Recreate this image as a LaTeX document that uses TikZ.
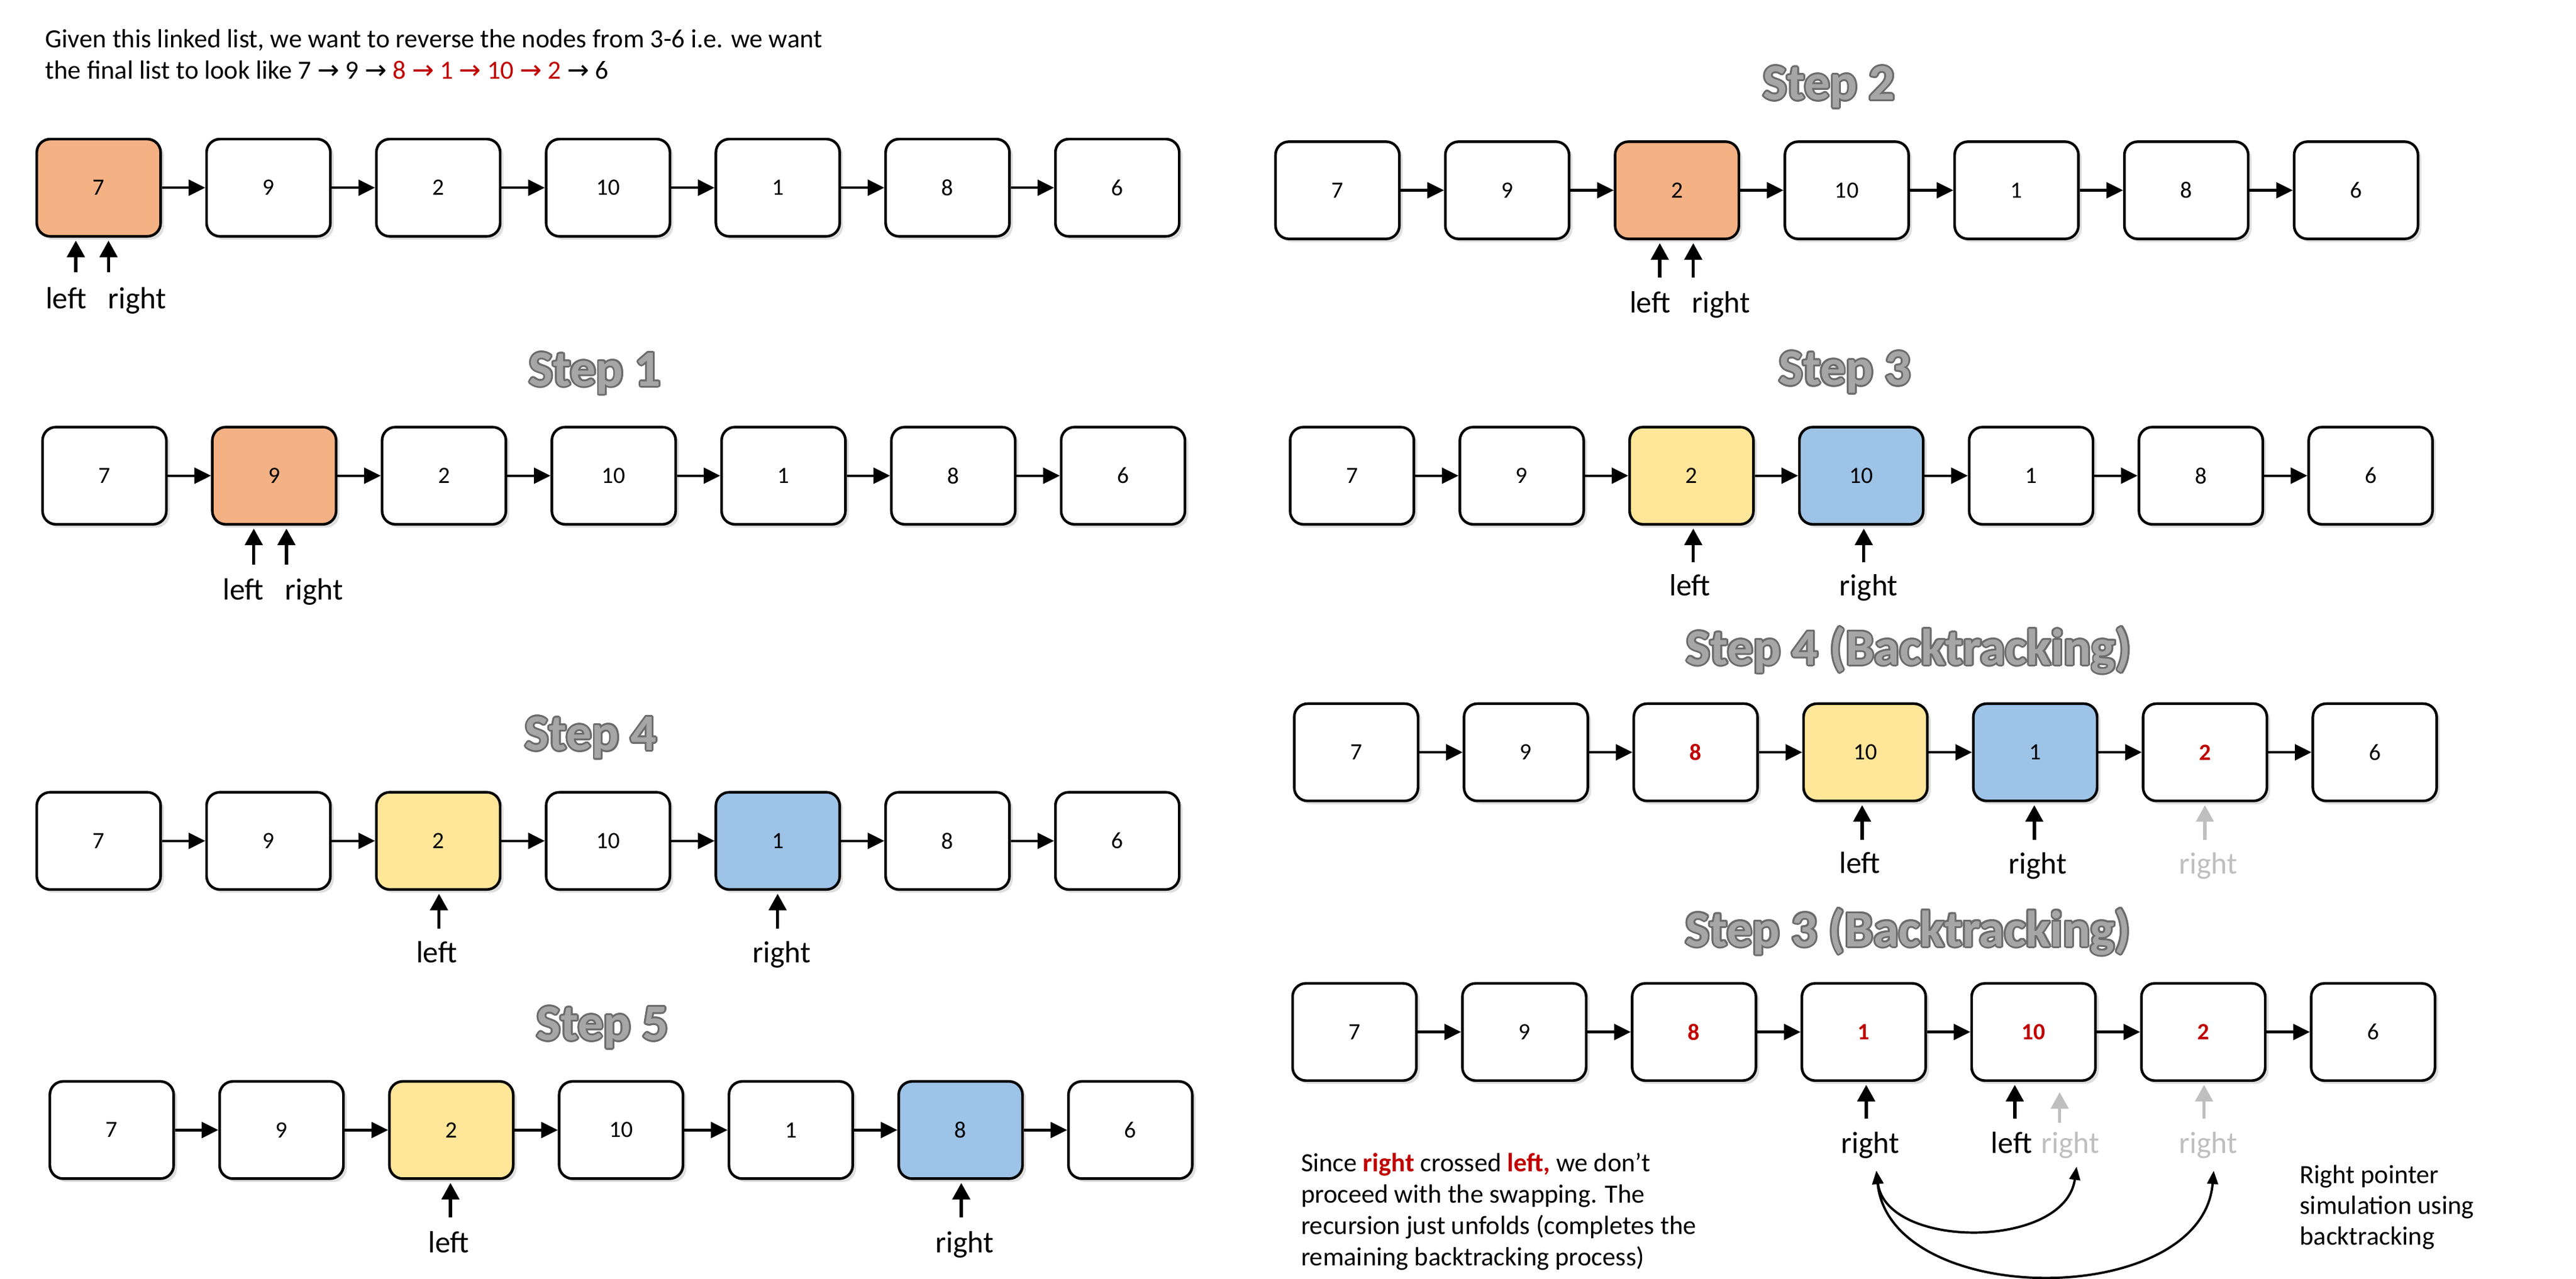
\documentclass[tikz,border=0pt]{standalone}
\usepackage{fontspec}
\setmainfont{Carlito}
\newfontfamily\arrowfont{DejaVu Sans}
\usepackage{contour}
\usetikzlibrary{arrows.meta, shadows}
\definecolor{lnorange}{HTML}{F4B183}
\definecolor{lnyellow}{HTML}{FFE699}
\definecolor{lnblue}{HTML}{9DC3E6}
\definecolor{lnred}{HTML}{C00000}
\definecolor{lnghost}{HTML}{BFBFBF}
\definecolor{lntitle}{HTML}{A6A6A6}
\definecolor{lnoutline}{HTML}{6B6B6B}
\contourlength{0.6pt}
\newcommand{\ra}{{\arrowfont →}}
\newcommand{\steptitle}[1]{\textcolor{lntitle}{\contour{lnoutline}{#1}}}

\begin{document}
\begin{tikzpicture}[
  every node/.style={font=\fontsize{9}{10.9}\selectfont},
  cell/.style={rectangle, draw, line width=0.9pt, rounded corners=0.16cm, minimum width=1.49cm, minimum height=1.17cm, fill=white, font=\fontsize{8}{9.6}\selectfont, drop shadow={opacity=0.25, shadow xshift=0.04cm, shadow yshift=-0.04cm}},
  orangecell/.style={cell, fill=lnorange},
  yellowcell/.style={cell, fill=lnyellow},
  bluecell/.style={cell, fill=lnblue},
  swapcell/.style={cell, text=lnred, font=\fontsize{8}{9.6}\selectfont\bfseries},
  link/.style={-{Triangle[length=2mm, width=1.9mm]}, line width=0.9pt},
  ptr/.style={-{Triangle[length=2mm, width=2.1mm]}, line width=1.1pt, shorten >=1pt},
  ghost/.style={lnghost},
  ptrlabel/.style={anchor=base, inner sep=0pt, font=\fontsize{10.5}{12.6}\selectfont},
  title/.style={anchor=base, inner sep=0pt, font=\fontsize{17.5}{21}\selectfont\bfseries},
  note/.style={anchor=base west, align=left, inner sep=0pt},
  swing/.style={{Triangle[length=1.6mm, width=1.3mm]}-{Triangle[length=1.6mm, width=1.3mm]}, line width=0.8pt},
]
\useasboundingbox (0,0) rectangle (31,-15.393);

% task text (base = last line)
\node[note] (intro) at (0.54,-0.953) {Given this linked list, we want to reverse the nodes from 3-6 i.e. we want\\the final list to look like 7 \ra{} 9 \ra{} \textcolor{lnred}{8 \ra{} 1 \ra{} 10 \ra{} 2} \ra{} 6};

% initial list
\foreach \v/\s [count=\i] in {7/orangecell, 9/cell, 2/cell, 10/cell, 1/cell, 8/cell, 6/cell}
  \node[\s] (a\i) at ({1.188+(\i-1)*2.043}, -2.259) {\v};
\foreach \i [evaluate=\i as \j using int(\i+1)] in {1,...,6}
  \draw[link] (a\i) -- (a\j);
\coordinate (pa1) at (0.913,-3.28);
\coordinate (pa2) at (1.306,-3.28);
\draw[ptr] (pa1) -- (pa1 |- a1.south);
\draw[ptr] (pa2) -- (pa2 |- a1.south);
\node[ptrlabel] (la1) at (0.795,-3.712) {left};
\node[ptrlabel] (la2) at (1.650,-3.712) {right};

% Step 1
\node[title] (tb) at (7.16,-4.645) {\steptitle{Step 1}};
\foreach \v/\s [count=\i] in {7/cell, 9/orangecell, 2/cell, 10/cell, 1/cell, 8/cell, 6/cell}
  \node[\s] (b\i) at ({1.257+(\i-1)*2.043}, -5.725) {\v};
\foreach \i [evaluate=\i as \j using int(\i+1)] in {1,...,6}
  \draw[link] (b\i) -- (b\j);
\coordinate (pb1) at (3.054,-6.795);
\coordinate (pb2) at (3.447,-6.795);
\draw[ptr] (pb1) -- (pb1 |- b2.south);
\draw[ptr] (pb2) -- (pb2 |- b2.south);
\node[ptrlabel] (lb1) at (2.926,-7.218) {left};
\node[ptrlabel] (lb2) at (3.781,-7.218) {right};

% Step 4
\node[title] (tc) at (7.11,-9.03) {\steptitle{Step 4}};
\foreach \v/\s [count=\i] in {7/cell, 9/cell, 2/yellowcell, 10/cell, 1/bluecell, 8/cell, 6/cell}
  \node[\s] (c\i) at ({1.188+(\i-1)*2.043}, -10.12) {\v};
\foreach \i [evaluate=\i as \j using int(\i+1)] in {1,...,6}
  \draw[link] (c\i) -- (c\j);
\coordinate (pc1) at (5.283,-11.175);
\coordinate (pc2) at (9.358,-11.175);
\draw[ptr] (pc1) -- (pc1 |- c3.south);
\draw[ptr] (pc2) -- (pc2 |- c5.south);
\node[ptrlabel] (lc1) at (5.254,-11.588) {left};
\node[ptrlabel] (lc2) at (9.408,-11.588) {right};

% Step 5
\node[title] (td) at (7.25,-12.52) {\steptitle{Step 5}};
\foreach \v/\s [count=\i] in {7/cell, 9/cell, 2/yellowcell, 10/cell, 1/cell, 8/bluecell, 6/cell}
  \node[\s] (d\i) at ({1.345+(\i-1)*2.043}, -13.60) {\v};
\foreach \i [evaluate=\i as \j using int(\i+1)] in {1,...,6}
  \draw[link] (d\i) -- (d\j);
\coordinate (pd1) at (5.421,-14.651);
\coordinate (pd2) at (11.568,-14.651);
\draw[ptr] (pd1) -- (pd1 |- d3.south);
\draw[ptr] (pd2) -- (pd2 |- d6.south);
\node[ptrlabel] (ld1) at (5.401,-15.074) {left};
\node[ptrlabel] (ld2) at (11.607,-15.074) {right};

% Step 2
\node[title] (te) at (22.01,-1.20) {\steptitle{Step 2}};
\foreach \v/\s [count=\i] in {7/cell, 9/cell, 2/orangecell, 10/cell, 1/cell, 8/cell, 6/cell}
  \node[\s] (e\i) at ({16.095+(\i-1)*2.043}, -2.29) {\v};
\foreach \i [evaluate=\i as \j using int(\i+1)] in {1,...,6}
  \draw[link] (e\i) -- (e\j);
\coordinate (pe1) at (19.974,-3.339);
\coordinate (pe2) at (20.377,-3.339);
\draw[ptr] (pe1) -- (pe1 |- e3.south);
\draw[ptr] (pe2) -- (pe2 |- e3.south);
\node[ptrlabel] (le1) at (19.856,-3.761) {left};
\node[ptrlabel] (le2) at (20.710,-3.761) {right};

% Step 3
\node[title] (tf) at (22.20,-4.635) {\steptitle{Step 3}};
\foreach \v/\s [count=\i] in {7/cell, 9/cell, 2/yellowcell, 10/bluecell, 1/cell, 8/cell, 6/cell}
  \node[\s] (f\i) at ({16.27+(\i-1)*2.043}, -5.725) {\v};
\foreach \i [evaluate=\i as \j using int(\i+1)] in {1,...,6}
  \draw[link] (f\i) -- (f\j);
\coordinate (pf1) at (20.377,-6.766);
\coordinate (pf2) at (22.429,-6.766);
\draw[ptr] (pf1) -- (pf1 |- f3.south);
\draw[ptr] (pf2) -- (pf2 |- f4.south);
\node[ptrlabel] (lf1) at (20.337,-7.169) {left};
\node[ptrlabel] (lf2) at (22.488,-7.169) {right};

% Step 4 (Backtracking)
\node[title] (tg) at (22.97,-8.00) {\steptitle{Step 4 (Backtracking)}};
\foreach \v/\s [count=\i] in {7/cell, 9/cell, 8/swapcell, 10/yellowcell, 1/bluecell, 2/swapcell, 6/cell}
  \node[\s] (g\i) at ({16.32+(\i-1)*2.043}, -9.054) {\v};
\foreach \i [evaluate=\i as \j using int(\i+1)] in {1,...,6}
  \draw[link] (g\i) -- (g\j);
\coordinate (pg1) at (22.409,-10.105);
\coordinate (pg2) at (24.481,-10.105);
\coordinate (pg3) at (26.534,-10.105);
\draw[ptr] (pg1) -- (pg1 |- g4.south);
\draw[ptr] (pg2) -- (pg2 |- g5.south);
\draw[ptr, ghost] (pg3) -- (pg3 |- g6.south);
\node[ptrlabel] (lg1) at (22.380,-10.51) {left};
\node[ptrlabel] (lg2) at (24.520,-10.52) {right};
\node[ptrlabel, text=lnghost] (lg3) at (26.573,-10.52) {right};

% Step 3 (Backtracking)
\node[title] (th) at (22.96,-11.39) {\steptitle{Step 3 (Backtracking)}};
\foreach \v/\s [count=\i] in {7/cell, 9/cell, 8/swapcell, 1/swapcell, 10/swapcell, 2/swapcell, 6/cell}
  \node[\s] (h\i) at ({16.30+(\i-1)*2.043}, -12.42) {\v};
\foreach \i [evaluate=\i as \j using int(\i+1)] in {1,...,6}
  \draw[link] (h\i) -- (h\j);
\coordinate (ph1) at (22.458,-13.463);
\coordinate (ph2) at (24.246,-13.463);
\coordinate (ph3) at (24.786,-13.51);
\coordinate (ph4) at (26.524,-13.463);
\draw[ptr] (ph1) -- (ph1 |- h4.south);
\draw[ptr] (ph2) -- (ph2 |- h5.south);
\draw[ptr, ghost, shorten >=3.5pt] (ph3) -- (ph3 |- h5.south);
\draw[ptr, ghost] (ph4) -- (ph4 |- h6.south);
\node[ptrlabel] (lh1) at (22.507,-13.876) {right};
\node[ptrlabel] (lh2) at (24.207,-13.876) {left};
\node[ptrlabel, text=lnghost] (lh3) at (24.913,-13.876) {right};
\node[ptrlabel, text=lnghost] (lh4) at (26.573,-13.876) {right};

% right pointer moving back
\coordinate (k0) at (22.58,-14.09);
\coordinate (k1) at (24.99,-14.04);
\coordinate (k2) at (26.64,-14.09);
\draw[swing] (k0) .. controls (22.70,-15.04) and (24.85,-15.04) .. (k1);
\draw[swing] (k0) .. controls (22.75,-15.76) and (26.50,-15.76) .. (k2);

% notes (base = last line)
\node[note, font=\fontsize{9}{10.7}\selectfont] (why) at (15.65,-15.23) {Since \textbf{\textcolor{lnred}{right}} crossed \textbf{\textcolor{lnred}{left,}} we don’t\\proceed with the swapping. The\\recursion just unfolds (completes the\\remaining backtracking process)};
\node[note, font=\fontsize{9}{10.5}\selectfont] (sim) at (27.67,-14.98) {Right pointer\\simulation using\\backtracking};

\end{tikzpicture}
\end{document}
